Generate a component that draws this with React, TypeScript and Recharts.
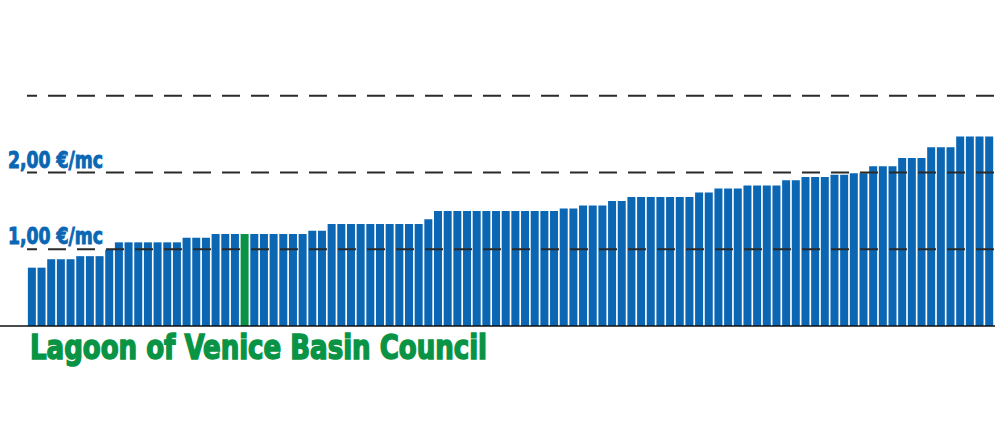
import { BarChart, Bar, Cell, XAxis, YAxis, ReferenceLine } from 'recharts';

// cost per cubic metre of each basin council, sorted ascending (€/mc)
const costs = [
  0.76, 0.76, 0.87, 0.87, 0.87, 0.91, 0.91, 0.91, 0.99, 1.09,
  1.09, 1.09, 1.09, 1.09, 1.09, 1.09, 1.15, 1.15, 1.15, 1.2,
  1.2, 1.2, 1.2, 1.2, 1.2, 1.2, 1.2, 1.2, 1.2, 1.24,
  1.24, 1.33, 1.33, 1.33, 1.33, 1.33, 1.33, 1.33, 1.33, 1.33,
  1.33, 1.39, 1.5, 1.5, 1.5, 1.5, 1.5, 1.5, 1.5, 1.5,
  1.5, 1.5, 1.5, 1.5, 1.5, 1.53, 1.53, 1.57, 1.57, 1.57,
  1.63, 1.63, 1.68, 1.68, 1.68, 1.68, 1.68, 1.68, 1.68, 1.74,
  1.74, 1.79, 1.79, 1.79, 1.83, 1.83, 1.83, 1.83, 1.9, 1.9,
  1.94, 1.94, 1.94, 1.97, 1.97, 1.99, 1.99, 2.08, 2.08, 2.08,
  2.19, 2.19, 2.19, 2.33, 2.33, 2.33, 2.47, 2.47, 2.47, 2.47,
];
const highlightIndex = 22;
const highlightName = 'Lagoon of Venice Basin Council';
const labelTicks = [1, 2];
const gridLevels = [1, 2, 3];

const BLUE = '#0b66b3';
const GREEN = '#089444';
const FONT = "'Liberation Sans Narrow', 'DejaVu Sans Condensed', 'DejaVu Sans', sans-serif";

const data = costs.map((v, i) => ({
  name: i === highlightIndex ? highlightName : `council ${i + 1}`,
  cost: v,
}));

const fmt = (v: number) => v.toFixed(2).replace('.', ',') + ' €/mc';

function LevelTick(props: any) {
  const { y, payload } = props;
  return (
    <text
      x={8}
      y={y - 5}
      fill={BLUE}
      stroke={BLUE}
      strokeWidth={0.9}
      fontFamily={FONT}
      fontWeight="bold"
      fontSize={23}
      textLength={95}
      lengthAdjust="spacingAndGlyphs"
    >
      {fmt(payload.value)}
    </text>
  );
}

function Baseline(props: any) {
  const { y1, x2 } = props;
  return (
    <g>
      <line x1={0} y1={y1} x2={x2 + 1} y2={y1} stroke="#111" strokeWidth={1.5} />
      <text
        x={30}
        y={y1 + 33}
        fill={GREEN}
        stroke={GREEN}
        strokeWidth={1.5}
        fontFamily={FONT}
        fontWeight="bold"
        fontSize={34}
        textLength={457}
        lengthAdjust="spacingAndGlyphs"
      >
        {highlightName}
      </text>
    </g>
  );
}

export default function App() {
  return (
    <div style={{ position: 'absolute', left: 0, top: 0, width: 1000, height: 425, background: '#fff' }}>
      <BarChart
        width={1000}
        height={425}
        data={data}
        margin={{ top: 19, right: 6, bottom: 99, left: 0 }}
        barCategoryGap="9%"
      >
        <XAxis dataKey="name" hide />
        <YAxis
          width={27}
          domain={[0, 4]}
          ticks={labelTicks}
          axisLine={false}
          tickLine={false}
          tick={<LevelTick />}
        />
        <Bar dataKey="cost" isAnimationActive={false}>
          {data.map((_, i) => (
            <Cell key={i} fill={i === highlightIndex ? GREEN : BLUE} />
          ))}
        </Bar>
        {gridLevels.map((lv) => (
          <ReferenceLine
            key={lv}
            y={lv}
            stroke="#2a2a2a"
            strokeWidth={2}
            strokeDasharray="18 11"
            strokeDashoffset={8}
          />
        ))}
        <ReferenceLine y={0} shape={<Baseline />} />
      </BarChart>
    </div>
  );
}
